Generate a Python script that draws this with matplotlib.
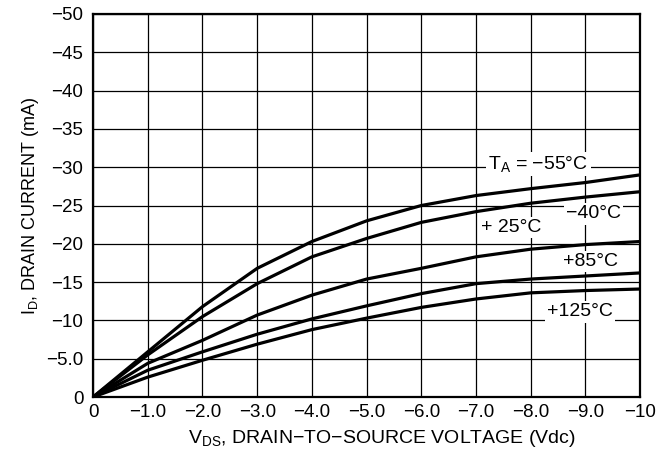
import matplotlib
matplotlib.use("Agg")
import matplotlib.pyplot as plt

plt.rcParams["font.family"] = ["Liberation Sans", "DejaVu Sans"]
plt.rcParams["mathtext.fontset"] = "custom"
plt.rcParams["mathtext.rm"] = "Liberation Sans"
plt.rcParams["mathtext.it"] = "Liberation Sans"

# drain-to-source voltage (Vdc) and drain current (mA) per ambient temperature
vds = [0, -1.0, -2.0, -3.0, -4.0, -5.0, -6.0, -7.0, -8.0, -9.0, -10.0]
id_m55 = [0, -5.9, -11.8, -16.8, -20.3, -23.0, -25.0, -26.3, -27.2, -28.0, -29.0]
id_m40 = [0, -5.5, -10.5, -14.8, -18.3, -20.7, -22.8, -24.2, -25.3, -26.1, -26.8]
id_p25 = [0, -4.4, -7.4, -10.7, -13.3, -15.4, -16.8, -18.3, -19.3, -19.9, -20.3]
id_p85 = [0, -3.5, -5.9, -8.2, -10.2, -11.9, -13.5, -14.8, -15.4, -15.8, -16.2]
id_p125 = [0, -2.6, -4.8, -6.9, -8.8, -10.3, -11.7, -12.8, -13.6, -13.9, -14.1]

xticks = [0, -1, -2, -3, -4, -5, -6, -7, -8, -9, -10]
xticklabels = ["0", "\u22121.0", "\u22122.0", "\u22123.0", "\u22124.0", "\u22125.0",
               "\u22126.0", "\u22127.0", "\u22128.0", "\u22129.0", "\u221210"]
yticks = [0, -5, -10, -15, -20, -25, -30, -35, -40, -45, -50]
yticklabels = ["0", "\u22125.0", "\u221210", "\u221215", "\u221220", "\u221225",
               "\u221230", "\u221235", "\u221240", "\u221245", "\u221250"]

# curve labels: (text, V, I)
labels = [
    ("T$_\\mathrm{A}$ = \u221255\u00b0C", -8.14, -30.4),
    ("\u221240\u00b0C", -9.15, -23.9),
    ("+ 25\u00b0C", -7.65, -22.1),
    ("+85\u00b0C", -9.1, -17.7),
    ("+125\u00b0C", -8.9, -11.1),
]

fig = plt.figure(figsize=(6.6, 4.66), dpi=100)
ax = fig.add_axes([0.141, 0.148, 0.829, 0.822])

for series in (id_m55, id_m40, id_p25, id_p85, id_p125):
    ax.plot(vds, series, color="black", linewidth=2.3, zorder=3,
            solid_joinstyle="round")

ax.set_xlim(0, -10)
ax.set_ylim(0, -50)
ax.set_xticks(xticks)
ax.set_xticklabels(xticklabels)
ax.set_yticks(yticks)
ax.set_yticklabels(yticklabels)
ax.tick_params(length=0, labelsize=13.5)
ax.tick_params(axis="x", pad=5)
ax.tick_params(axis="y", pad=7)
ax.grid(True, color="black", linewidth=0.9)
ax.set_axisbelow(True)
for s in ax.spines.values():
    s.set_linewidth(1.6)

for txt, x, y in labels:
    ax.text(x, y, txt, fontsize=14, ha="center", va="center", zorder=4,
            bbox=dict(facecolor="white", edgecolor="none", pad=1.5))

ax.set_xlabel("V$_\\mathrm{DS}$, DRAIN\u2212TO\u2212SOURCE VOLTAGE (Vdc)", fontsize=14,
              labelpad=5)
ax.xaxis.label.set_x(0.527)
ax.set_ylabel("I$_\\mathrm{D}$, DRAIN CURRENT (mA)", fontsize=13, labelpad=4)

fig.savefig("out.png", dpi=100)
